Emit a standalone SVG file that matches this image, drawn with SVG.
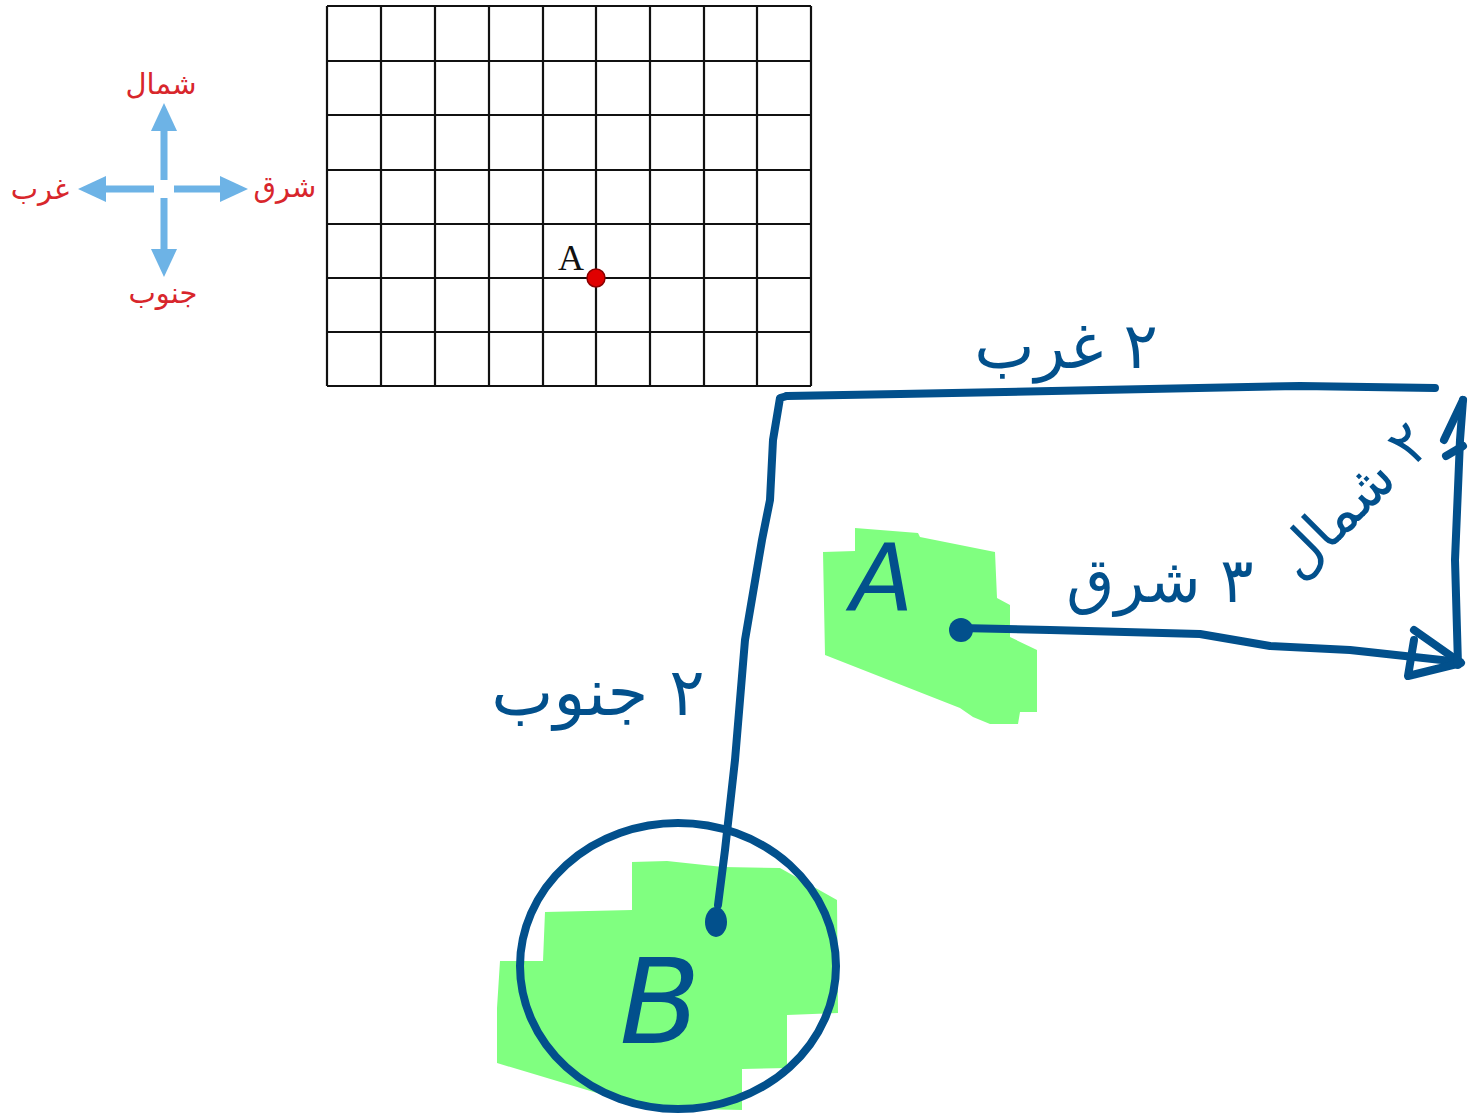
<svg xmlns="http://www.w3.org/2000/svg" width="1475" height="1116" viewBox="0 0 1475 1116">
<style>
.grid{stroke:#111;stroke-width:2.2;fill:none}
.cmp{stroke:#6db3e6;stroke-width:7;fill:none}
.cmph{fill:#6db3e6}
.red{fill:#d8262c;font-family:"DejaVu Sans",sans-serif;font-size:29px;text-anchor:middle}
.ink{stroke:#02508c;stroke-width:8;fill:none;stroke-linecap:round;stroke-linejoin:round}
.hand{fill:#02508c;font-family:"DejaVu Sans",sans-serif;text-anchor:middle}
.hl{fill:#80ff80}
</style>
<rect width="1475" height="1116" fill="#fff"/>
<g id="compass">
<path class="cmp" d="M164,180 V126 M164,198 V252 M154,189 H102 M174,189 H226"/>
<polygon class="cmph" points="164,103 177,131 151,131"/>
<polygon class="cmph" points="164,277 177,249 151,249"/>
<polygon class="cmph" points="78,189 106,176 106,202"/>
<polygon class="cmph" points="248,189 220,176 220,202"/>
<text class="red" x="161" y="94">شمال</text>
<text class="red" x="285" y="197">شرق</text>
<text class="red" x="40" y="199">غرب</text>
<text class="red" x="163" y="303">جنوب</text>
</g>
<g id="grid">
<path class="grid" d="M327,6 V386 M381,6 V386 M435,6 V386 M489,6 V386 M543,6 V386 M596,6 V386 M650,6 V386 M704,6 V386 M757,6 V386 M811,6 V386 M327,6 H811 M327,61 H811 M327,115 H811 M327,170 H811 M327,224 H811 M327,278 H811 M327,332 H811 M327,386 H811"/>
<text x="571" y="270" font-family="Liberation Serif,serif" font-size="36" text-anchor="middle" fill="#111">A</text>
<circle cx="596" cy="278" r="9" fill="#e00000" stroke="#8a0000" stroke-width="1.5"/>
</g>
<g id="highlightA">
<polygon class="hl" points="855,528 918,533 920,537 995,552 997,598 1010,605 1010,637 1037,650 1037,712 1020,712 1018,724 990,724 973,717 960,708 825,655 823,552 855,551"/>
</g>
<g id="highlightB">
<polygon class="hl" points="632,862 667,861 723,867 780,868 837,900 838,1013 787,1015 787,1068 742,1069 742,1110 647,1108 497,1063 497,1008 500,961 543,961 545,912 632,910"/>
</g>
<g id="connectors">
<path class="ink" d="M960,628 L1050,630 L1200,634 L1270,646 L1350,650 L1460,662"/>
<path class="ink" d="M1414,630 L1461,663 L1408,676 L1414,640"/>
<path class="ink" d="M1458,665 L1455,560 L1460,440 L1463,400"/>
<path class="ink" d="M1444,440 L1463,400 M1446,456 L1463,446"/>
<path class="ink" d="M1435,388 L1300,386 L1100,390 L900,394 L787,396"/>
<path class="ink" d="M787,396 L780,398 L773,440 L770,500 L762,540 L745,640 L740,700 L735,760 L725,850 L718,905"/>
<ellipse cx="716" cy="922" rx="11" ry="15" fill="#02508c"/>
<circle cx="961" cy="630" r="12" fill="#02508c"/>
</g>
<g id="nodeA">
<text class="hand" x="882" y="610" font-size="92" font-style="italic">A</text>
</g>
<g id="nodeB">
<ellipse class="ink" cx="678" cy="966" rx="158" ry="143" stroke-width="9"/>
<text class="hand" x="660" y="1043" font-size="118" font-style="italic">B</text>
</g>
<g id="labels">
<text class="hand" x="1066" y="368" font-size="64" direction="rtl">۲ غرب</text>
<text class="hand" x="598" y="715" font-size="66" direction="rtl">۲ جنوب</text>
<text class="hand" x="1160" y="602" font-size="62" direction="rtl">۳ شرق</text>
<text class="hand" x="1352" y="520" font-size="58" direction="rtl" transform="rotate(-45 1352 500)">۲ شمال</text>
</g>
</svg>
